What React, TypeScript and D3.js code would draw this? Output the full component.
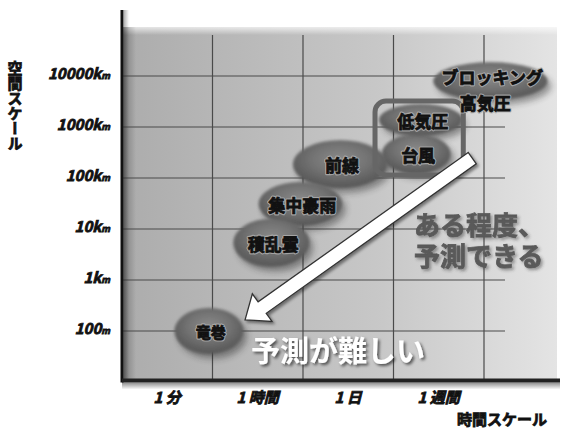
import React from "react";
import * as d3 from "d3";

// ---- data ----
const spaceTicks = [2, 3, 4, 5, 6, 7];
const spaceTickLabels = ["100m", "1km", "10km", "100km", "1000km", "10000km"];
const timeGrid = [1, 2, 3, 4];
const timeTickPos = [0.5, 1.5, 2.5, 3.5];
const timeTickLabels = ["1 分", "1 時間", "1 日", "1 週間"];

const phenomena = ["竜巻", "積乱雲", "集中豪雨", "前線", "台風", "低気圧", "ブロッキング高気圧"];
const timeCenter = [0.96, 1.65, 1.97, 2.41, 3.25, 3.3, 4.07];
const spaceCenter = [2.0, 3.73, 4.49, 5.27, 5.47, 6.14, 6.9];
const timeSpread = [0.38, 0.42, 0.46, 0.52, 0.38, 0.46, 0.63];
const spaceSpread = [0.45, 0.47, 0.43, 0.47, 0.39, 0.31, 0.37];
const drawOrder = [6, 4, 5, 3, 2, 1, 0];
const highlighted = ["台風", "低気圧"];

const arrowFrom = [3.87, 5.39];
const arrowTo = [1.36, 2.22];

const noteEasy = ["ある程度、", "予測できる"];
const noteHard = "予測が難しい";
const yTitle = "空間スケール";
const xTitle = "時間スケール";

const W = 562;
const H = 430;
const JP = "'Noto Sans CJK JP', 'Noto Sans', sans-serif";

export default function App() {
  const x = d3.scaleLinear().domain([0, 4]).range([122, 484]);
  const y = d3.scaleLinear().domain([2, 7]).range([331, 76]);
  const left = x(0);
  const bottom = y(1.03);
  const top = y(7.96);
  const right = 557;

  const hi = highlighted.map((n) => phenomena.indexOf(n));
  const bx0 = d3.min(hi, (i) => x(timeCenter[i] - timeSpread[i]))! - 4;
  const bx1 = d3.max(hi, (i) => x(timeCenter[i] + timeSpread[i]))! + 1;
  const by0 = d3.min(hi, (i) => y(spaceCenter[i] + spaceSpread[i]))! - 3;
  const by1 = d3.max(hi, (i) => y(spaceCenter[i] - spaceSpread[i]))! + 1;

  const tx = x(arrowFrom[0]), ty = y(arrowFrom[1]);
  const hx = x(arrowTo[0]), hy = y(arrowTo[1]);
  const len = Math.hypot(hx - tx, hy - ty);
  const ux = (hx - tx) / len, uy = (hy - ty) / len;
  const nx = -uy, ny = ux;
  const sw = 7, hw = 17, hl = 21;
  const bxm = hx - ux * hl, bym = hy - uy * hl;
  const arrowPts: [number, number][] = [
    [tx + nx * sw, ty + ny * sw],
    [bxm + nx * sw, bym + ny * sw],
    [bxm + nx * hw, bym + ny * hw],
    [hx, hy],
    [bxm - nx * hw, bym - ny * hw],
    [bxm - nx * sw, bym - ny * sw],
    [tx - nx * sw, ty - ny * sw],
  ];
  const arrowPath = d3.line()(arrowPts)! + "Z";

  const tickLabel = (s: string) => {
    const m = s.endsWith("m") ? s.slice(0, -1) : s;
    return (
      <>
        {m}
        <tspan fontSize={9}>m</tspan>
      </>
    );
  };

  const heavy = { stroke: "#111", strokeWidth: 0.8 };

  return (
    <svg width={W} height={H} style={{ position: "absolute", left: 0, top: 0, background: "#fff" }}>
      <defs>
        <linearGradient id="bg" x1="0" x2="1" y1="0" y2="0">
          <stop offset="0" stopColor="#acacac" />
          <stop offset="0.6" stopColor="#c8c8c8" />
          <stop offset="1" stopColor="#e4e4e4" />
        </linearGradient>
        <linearGradient id="bgTop" x1="0" x2="0" y1="0" y2="1">
          <stop offset="0" stopColor="#fff" stopOpacity="0.7" />
          <stop offset="1" stopColor="#fff" stopOpacity="0" />
        </linearGradient>
        <linearGradient id="leftShade" x1="0" x2="1" y1="0" y2="0">
          <stop offset="0" stopColor="#000" stopOpacity="0.3" />
          <stop offset="1" stopColor="#000" stopOpacity="0" />
        </linearGradient>
        <linearGradient id="botShade" x1="0" x2="0" y1="0" y2="1">
          <stop offset="0" stopColor="#000" stopOpacity="0.45" />
          <stop offset="1" stopColor="#000" stopOpacity="0" />
        </linearGradient>
        <radialGradient id="blob" cx="0.5" cy="0.4" r="0.62">
          <stop offset="0" stopColor="#8a8a8a" />
          <stop offset="0.5" stopColor="#727272" />
          <stop offset="0.85" stopColor="#5c5c5c" />
          <stop offset="1" stopColor="#555" />
        </radialGradient>
        <filter id="blur2" x="-30%" y="-30%" width="160%" height="160%">
          <feGaussianBlur stdDeviation="1.4" />
        </filter>
        <filter id="blur5" x="-40%" y="-40%" width="180%" height="180%">
          <feGaussianBlur stdDeviation="3" />
        </filter>
        <filter id="txtShadow" x="-10%" y="-30%" width="130%" height="170%">
          <feDropShadow dx="2" dy="2" stdDeviation="1.5" floodColor="#000" floodOpacity="0.6" />
        </filter>
        <filter id="txtShadowLight" x="-10%" y="-30%" width="130%" height="170%">
          <feDropShadow dx="2" dy="2" stdDeviation="1.5" floodColor="#333" floodOpacity="0.45" />
        </filter>
        <filter id="arrowShadow" x="-20%" y="-20%" width="140%" height="140%">
          <feDropShadow dx="2" dy="2" stdDeviation="1.5" floodColor="#000" floodOpacity="0.45" />
        </filter>
      </defs>

      <rect x={left} y={top} width={right - left} height={bottom - top} fill="url(#bg)" />
      <rect x={left} y={top} width={right - left} height={8} fill="url(#bgTop)" />
      <rect x={left} y={top} width={14} height={bottom - top} fill="url(#leftShade)" />

      {timeGrid.map((t) => (
        <line key={"v" + t} x1={x(t)} x2={x(t)} y1={35} y2={bottom} stroke="#4a4a4a" strokeWidth={1.2} />
      ))}
      {spaceTicks.map((s) => (
        <line key={"h" + s} x1={left} x2={505} y1={y(s)} y2={y(s)} stroke="#4a4a4a" strokeWidth={1.2} />
      ))}

      {drawOrder.map((i) => (
        <ellipse
          key={"s" + i}
          cx={x(timeCenter[i]) + 4}
          cy={y(spaceCenter[i]) + 5}
          rx={x(timeSpread[i]) - x(0)}
          ry={y(0) - y(spaceSpread[i])}
          fill="#222"
          opacity={0.4}
          filter="url(#blur5)"
        />
      ))}
      {drawOrder.map((i) => (
        <ellipse
          key={"e" + i}
          cx={x(timeCenter[i])}
          cy={y(spaceCenter[i])}
          rx={x(timeSpread[i]) - x(0)}
          ry={y(0) - y(spaceSpread[i])}
          fill="url(#blob)"
          filter="url(#blur2)"
        />
      ))}

      <rect x={bx0} y={by0} width={bx1 - bx0} height={by1 - by0} rx={11} fill="none" stroke="#666" strokeWidth={5} />

      {phenomena.map((name, i) => {
        const cx = x(timeCenter[i]);
        const cy = y(spaceCenter[i]);
        const lines = name === "ブロッキング高気圧" ? ["ブロッキング", "高気圧"] : [name];
        return lines.map((ln, k) => {
          const props = {
            x: k === 0 ? cx + 2 : cx - 5,
            y: cy + (lines.length > 1 ? -3 + k * 26 : 2),
            dy: "0.35em",
            textAnchor: "middle" as const,
            fontFamily: JP,
            fontWeight: 700,
            fontSize: name === "竜巻" ? 15 : 17,
          };
          return (
            <g key={"l" + i + k}>
              <text {...props} fill="none" stroke="#b0b0b0" strokeWidth={3.2} strokeLinejoin="round" opacity={0.8}>
                {ln}
              </text>
              <text {...props} fill="#111" {...heavy}>
                {ln}
              </text>
            </g>
          );
        });
      })}

      <path d={arrowPath} fill="#fff" stroke="#333" strokeWidth={1.3} strokeLinejoin="miter" filter="url(#arrowShadow)" />

      <g filter="url(#txtShadowLight)">
        {noteEasy.map((t, k) => (
          <text
            key={"n" + k}
            x={414}
            y={226 + k * 31}
            dy="0.35em"
            fontFamily={JP}
            fontWeight={700}
            fontSize={26}
            fill="#5a5a5a"
            stroke="#5a5a5a"
            strokeWidth={0.8}
          >
            {t}
          </text>
        ))}
      </g>
      <text x={251} y={352} dy="0.35em" fontFamily={JP} fontWeight={700} fontSize={29} fill="#fff" filter="url(#txtShadow)">
        {noteHard}
      </text>

      <rect x={left} y={bottom + 2} width={560 - left} height={7} fill="url(#botShade)" />
      <rect x={left + 2} y={10} width={5} height={bottom - 10} fill="url(#leftShade)" />
      <line x1={left} x2={left} y1={10} y2={bottom + 2} stroke="#111" strokeWidth={3} />
      <line x1={left} x2={560} y1={bottom} y2={bottom} stroke="#222" strokeWidth={4} />

      {spaceTicks.map((s, i) => (
        <text
          key={"yt" + s}
          x={110}
          y={y(s) - 2}
          dy="0.35em"
          textAnchor="end"
          fontFamily={JP}
          fontWeight={700}
          fontStyle="italic"
          fontSize={15}
          fill="#111"
          {...heavy}
        >
          {tickLabel(spaceTickLabels[i])}
        </text>
      ))}
      {timeTickPos.map((t, i) => (
        <text
          key={"xt" + i}
          x={x(t)}
          y={398}
          dy="0.35em"
          textAnchor="middle"
          fontFamily={JP}
          fontWeight={700}
          fontStyle="italic"
          fontSize={15}
          fill="#111"
          {...heavy}
        >
          {timeTickLabels[i]}
        </text>
      ))}

      <text
        x={15}
        y={61}
        writingMode="vertical-rl"
        textOrientation="upright"
        fontFamily={JP}
        fontWeight={700}
        fontSize={15}
        fill="#111"
        stroke="#111"
        strokeWidth={0.8}
      >
        {yTitle}
      </text>
      <text x={502} y={420} dy="0.35em" textAnchor="middle" fontFamily={JP} fontWeight={700} fontSize={15} fill="#111" {...heavy}>
        {xTitle}
      </text>
    </svg>
  );
}
